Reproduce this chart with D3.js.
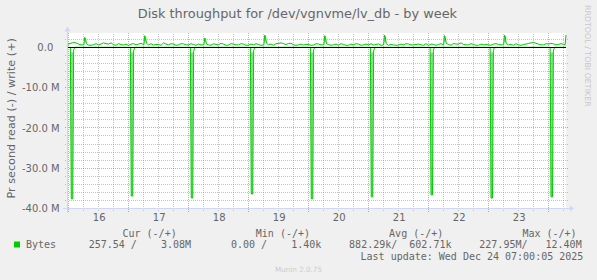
<!DOCTYPE html>
<html>
<head>
<meta charset="utf-8">
<script src="https://cdn.jsdelivr.net/npm/d3@7"></script>
<style>
html, body { margin: 0; padding: 0; background: #f0f0f0; }
svg { display: block; }
text { white-space: pre; }
</style>
</head>
<body>
<div id="chart"></div>
<script>
const M = 1e6;

// write (+), MB/s, even hours starting Tue Dec 16 00:00
const writeEven = [
    0.9, 1.2, 0.8, 0.65, 0.55, 0.65, 0.6, 1.1, 0.8, 0.65, 0.9, 0.55,
    0.45, 0.9, 0.8, 0.7, 0.6, 0.55, 0.7, 1.1, 0.6, 0.8, 0.6, 0.85,
    0.6, 0.7, 0.8, 0.55, 0.6, 0.9, 0.6, 0.8, 0.55, 0.8, 0.6, 0.8,
    0.55, 0.6, 0.7, 0.5, 0.6, 0.5, 0.95, 0.9, 0.95, 0.6, 0.6, 0.55,
    0.7, 0.55, 0.8, 0.45, 0.7, 0.6, 0.5, 0.7, 0.5, 0.6, 0.8, 0.6,
    0.6, 0.55, 0.85, 0.6, 0.5, 0.6, 0.55, 0.6, 0.8, 0.6, 0.8, 0.5,
    0.45, 0.7, 0.7, 0.6, 0.7, 0.95, 0.8, 0.7, 0.6, 0.7, 0.5, 0.6,
    0.6, 0.8, 0.7, 0.6, 0.6, 0.5, 0.6, 0.7, 0.95, 1.2, 0.8, 0.6,
    0.8, 0.85, 0.7, 0.75
];
// write (+), MB/s, odd hours starting Dec 16 01:00
const writeOdd = [
    1.0, 1.1, 0.6, 0.7, 0.5, 0.9, 0.8, 0.9, 1.1, 0.5, 0.7, 0.8,
    0.8, 0.6, 1.0, 0.6, 0.9, 0.7, 0.5, 0.8, 0.9, 0.5, 0.9, 0.6,
    0.9, 0.5, 0.6, 0.8, 0.5, 0.7, 1.0, 0.5, 0.9, 0.6, 0.9, 0.5,
    0.8, 0.9, 0.5, 0.7, 0.8, 0.9, 1.1, 0.7, 1.0, 0.5, 0.8, 0.7,
    0.5, 0.9, 0.6, 0.7, 0.5, 0.8, 0.9, 0.5, 0.8, 0.9, 0.5, 0.8,
    0.9, 0.7, 0.5, 0.8, 0.7, 0.5, 0.8, 0.9, 0.6, 0.7, 0.6, 0.9,
    0.8, 0.5, 0.9, 0.7, 0.5, 0.8, 1.1, 0.6, 0.9, 0.5, 0.8, 0.7,
    0.5, 0.9, 0.6, 0.8, 0.7, 0.9, 0.5, 0.8, 1.1, 1.0, 0.6, 0.9,
    1.0, 0.6, 0.9
];
// morning write bursts (hours since Dec 16 00:00)
const writeSpikeHour = [6.5, 30.5, 54.5, 78.5, 102.5, 126.4, 150.4, 174.4, 199];
const writeSpikePeak = [2.46, 2.88, 2.3, 3.05, 2.9, 3.05, 2.9, 3.05, 3.05];
const writeSpikeTail = [0.9, 1.0, 0.8, 1.0, 0.9, 0.9, 1.0, 0.9, null];

// nightly read bursts (-)
const readSpikeHour = [1.4, 25.4, 49.4, 73.4, 97.4, 121.4, 145.3, 169.3, 193.3];
const readSpikeDepth = [-37.6, -36.9, -37.4, -36.4, -37.6, -37.1, -36.6, -37.4, -37.1];
const readAfterDip = [-0.7, -0.9, -1.0, -0.8, -0.6, -0.9, -0.7, -0.8, -0.9];

const yTicks = [0, -10, -20, -30, -40];
const dayLabels = [16, 17, 18, 19, 20, 21, 22, 23];

const legendHeaders = ['Cur (-/+)', 'Min (-/+)', 'Avg (-/+)', 'Max (-/+)'];
const legendRead = ['257.54', '0.00', '882.29k', '227.95M'];
const legendWrite = ['3.08M', '1.40k', '602.71k', '12.40M'];

const width = 597, height = 280;
const t0 = new Date(2025, 11, 16, 0, 0);
const hour = h => new Date(+t0 + h * 3600e3);

// build the series
const nearSpike = h => writeSpikeHour.some(s => Math.abs(h - s) < 0.9);
let writePts = [[-0.6, 0.3]];
writeEven.forEach((v, i) => { if (!nearSpike(i * 2)) writePts.push([i * 2, v]); });
writeOdd.forEach((v, i) => { if (!nearSpike(i * 2 + 1)) writePts.push([i * 2 + 1, v]); });
writeSpikeHour.forEach((h, i) => {
    writePts.push([h - 0.35, 0.6]);
    writePts.push([h, writeSpikePeak[i]]);
    if (writeSpikeTail[i] != null) {
        writePts.push([h + 0.3, writeSpikePeak[i] * 0.85]);
        writePts.push([h + 0.7, writeSpikeTail[i]]);
    }
});
writePts.sort((a, b) => a[0] - b[0]);

let readPts = [[-0.6, 0]];
readSpikeHour.forEach((h, i) => {
    readPts.push([h - 0.65, 0], [h - 0.3, readSpikeDepth[i]], [h + 0.3, readSpikeDepth[i]],
        [h + 0.65, readAfterDip[i]], [h + 1.1, 0]);
});
readPts.push([199, 0]);

const plot = { left: 67, right: 566, top: 33, bottom: 208.5 };

const x = d3.scaleTime().domain([hour(-0.6), hour(199)]).range([plot.left, plot.right]);
const y = d3.scaleLinear().domain([-40 * M, 3.55 * M]).range([plot.bottom, plot.top]);

const svg = d3.select('#chart').append('svg')
    .attr('width', width).attr('height', height)
    .style('background', '#f0f0f0');

svg.append('rect')
    .attr('x', plot.left).attr('y', plot.top)
    .attr('width', plot.right - plot.left).attr('height', plot.bottom - plot.top)
    .attr('fill', '#fff');

const gridColor = 'rgba(140,140,140,0.5)';
const mgridColor = 'rgba(255,0,0,0.42)';

function styleGrid(g, color) {
    g.select('.domain').remove();
    g.selectAll('.tick line')
        .attr('stroke', color)
        .attr('stroke-dasharray', '1,1')
        .attr('shape-rendering', 'crispEdges');
}

// minor horizontal grid (every 2M)
const minorY = d3.range(2, -40, -2).filter(v => v % 10 !== 0).map(v => v * M);
svg.append('g')
    .attr('transform', `translate(${plot.left - 2},0)`)
    .call(d3.axisLeft(y).tickValues(minorY).tickFormat('').tickSize(-(plot.right - plot.left + 4)).offset(0))
    .call(g => styleGrid(g, gridColor));

// minor vertical grid (every 6h)
const minorX = d3.range(6, 199, 6).filter(h => h % 24 !== 0).map(hour);
svg.append('g')
    .attr('transform', `translate(0,${plot.bottom + 2})`)
    .call(d3.axisBottom(x).tickValues(minorX).tickFormat('').tickSize(-(plot.bottom + 2 - plot.top)).offset(0))
    .call(g => styleGrid(g, gridColor));

// major horizontal grid
svg.append('g')
    .attr('transform', `translate(${plot.left - 2},0)`)
    .call(d3.axisLeft(y).tickValues(yTicks.slice(1).map(v => v * M)).tickFormat('').tickSize(-(plot.right - plot.left + 4)).offset(0))
    .call(g => styleGrid(g, mgridColor));

// major vertical grid (midnights)
const majorX = d3.range(0, 199, 24).map(hour);
svg.append('g')
    .attr('transform', `translate(0,${plot.bottom + 3})`)
    .call(d3.axisBottom(x).tickValues(majorX).tickFormat('').tickSize(-(plot.bottom + 3 - plot.top)).offset(0))
    .call(g => styleGrid(g, mgridColor));

// light fill under the steep spikes
const y0 = y(0);
const H = plot.bottom - plot.top;
const off = v => Math.max(0, Math.min(1, (v - plot.top) / H));
const grad = svg.append('defs').append('linearGradient')
    .attr('id', 'spikeFill').attr('gradientUnits', 'userSpaceOnUse')
    .attr('x1', 0).attr('x2', 0).attr('y1', plot.top).attr('y2', plot.bottom);
[[0, 0.5], [off(y0 - 6), 0.45], [off(y0 - 4.5), 0], [off(y0 + 4), 0], [off(y0 + 6), 0.5], [1, 0.5]]
    .forEach(([o, a]) => grad.append('stop').attr('offset', o).attr('stop-color', '#00cc00').attr('stop-opacity', a));

const area = d3.area()
    .x(d => x(hour(d[0])))
    .y0(y0)
    .y1(d => y(d[1] * M));
const line = d3.line()
    .x(d => x(hour(d[0])))
    .y(d => y(d[1] * M));

[readPts, writePts].forEach(pts => {
    svg.append('path').attr('d', area(pts)).attr('fill', 'url(#spikeFill)');
});
[readPts, writePts].forEach(pts => {
    svg.append('path').attr('d', line(pts))
        .attr('fill', 'none').attr('stroke', '#00cc00').attr('stroke-width', 1);
});

// zero line
const zy = Math.floor(y0) + 0.5;
svg.append('line')
    .attr('x1', plot.left).attr('x2', plot.right)
    .attr('y1', zy).attr('y2', zy)
    .attr('stroke', '#000').attr('stroke-width', 1);

// axes with arrows
const axisColor = '#cfd6f8';
svg.append('line')
    .attr('x1', plot.left - 4).attr('x2', plot.right + 4)
    .attr('y1', plot.bottom).attr('y2', plot.bottom)
    .attr('stroke', axisColor).attr('shape-rendering', 'crispEdges');
svg.append('line')
    .attr('x1', plot.left + 0.5).attr('x2', plot.left + 0.5)
    .attr('y1', plot.bottom + 4).attr('y2', plot.top - 4)
    .attr('stroke', axisColor).attr('shape-rendering', 'crispEdges');
svg.append('path')
    .attr('d', `M${plot.right + 4},${plot.bottom - 3}L${plot.right + 8},${plot.bottom}L${plot.right + 4},${plot.bottom + 3}Z`)
    .attr('fill', axisColor);
svg.append('path')
    .attr('d', `M${plot.left - 2.5},${plot.top - 1.5}L${plot.left + 0.5},${plot.top - 6.5}L${plot.left + 3.5},${plot.top - 1.5}Z`)
    .attr('fill', axisColor);

const fontColor = '#666';
const sans = 'DejaVu Sans';
const mono = 'DejaVu Sans Mono';

// y labels
const yFmt = v => v === 0 ? '0.0  ' : (v / M).toFixed(1) + ' M';
svg.append('g')
    .attr('transform', `translate(59.6,0)`)
    .call(d3.axisLeft(y).tickValues(yTicks.map(v => v * M)).tickFormat(yFmt).tickSize(0).tickPadding(0).offset(0))
    .call(g => {
        g.select('.domain').remove();
        g.selectAll('text').attr('fill', fontColor).attr('dy', '0.36em')
            .style('font-family', sans).style('font-size', '10px');
    });

// x labels at noon of each day
svg.append('g')
    .attr('transform', `translate(0.7,${plot.bottom})`)
    .call(d3.axisBottom(x).tickValues(dayLabels.map((d, i) => hour(i * 24 + 12)))
        .tickFormat(d3.timeFormat('%d')).tickSize(0).tickPadding(5).offset(0))
    .call(g => {
        g.select('.domain').remove();
        g.selectAll('text').attr('fill', fontColor)
            .style('font-family', sans).style('font-size', '10px');
    });

// title
svg.append('text')
    .attr('x', 297.4).attr('y', 18.3)
    .attr('text-anchor', 'middle')
    .attr('fill', fontColor)
    .style('font-family', sans).style('font-size', '12.9px')
    .text('Disk throughput for /dev/vgnvme/lv_db - by week');

// vertical label
svg.append('text')
    .attr('transform', 'translate(14.8,118.3) rotate(-90)')
    .attr('text-anchor', 'middle')
    .attr('fill', fontColor)
    .style('font-family', sans).style('font-size', '11.2px')
    .text('Pr second read (-) / write (+)');

// watermark
svg.append('text')
    .attr('transform', 'translate(585.2,5) rotate(90)')
    .attr('fill', '#c8c8c8')
    .style('font-family', sans).style('font-size', '7.9px')
    .text('RRDTOOL / TOBI OETIKER');

// legend
svg.selectAll('text.hdr').data(legendHeaders).join('text')
    .attr('class', 'hdr')
    .attr('x', (d, i) => 122.5 + i * 133.3).attr('y', 236.5)
    .attr('fill', fontColor)
    .style('font-family', mono).style('font-size', '10px')
    .text(d => d);

svg.append('rect')
    .attr('x', 14).attr('y', 241.5).attr('width', 6).attr('height', 6)
    .attr('fill', '#00cc00');

svg.append('text')
    .attr('x', 26).attr('y', 248)
    .attr('fill', fontColor)
    .style('font-family', mono).style('font-size', '10px')
    .text('Bytes');

const hasUnit = v => /[kM]$/.test(v);
const colText = legendRead.map((r, i) =>
    ((hasUnit(r) ? r : r + ' ').padStart(7) + '/') + legendWrite[i].padStart(9));

svg.selectAll('text.val').data(colText).join('text')
    .attr('class', 'val')
    .attr('x', (d, i) => 88.7 + i * 130.2).attr('y', 248)
    .attr('fill', fontColor)
    .style('font-family', mono).style('font-size', '10px')
    .text(d => d);

svg.append('text')
    .attr('x', 583.3).attr('y', 260)
    .attr('text-anchor', 'end')
    .attr('fill', fontColor)
    .style('font-family', mono).style('font-size', '10px')
    .text('Last update: Wed Dec 24 07:00:05 2025');

svg.append('text')
    .attr('x', 298.5).attr('y', 272)
    .attr('text-anchor', 'middle')
    .attr('fill', '#cccccc')
    .style('font-family', sans).style('font-size', '7.2px')
    .text('Munin 2.0.75');
</script>
</body>
</html>
